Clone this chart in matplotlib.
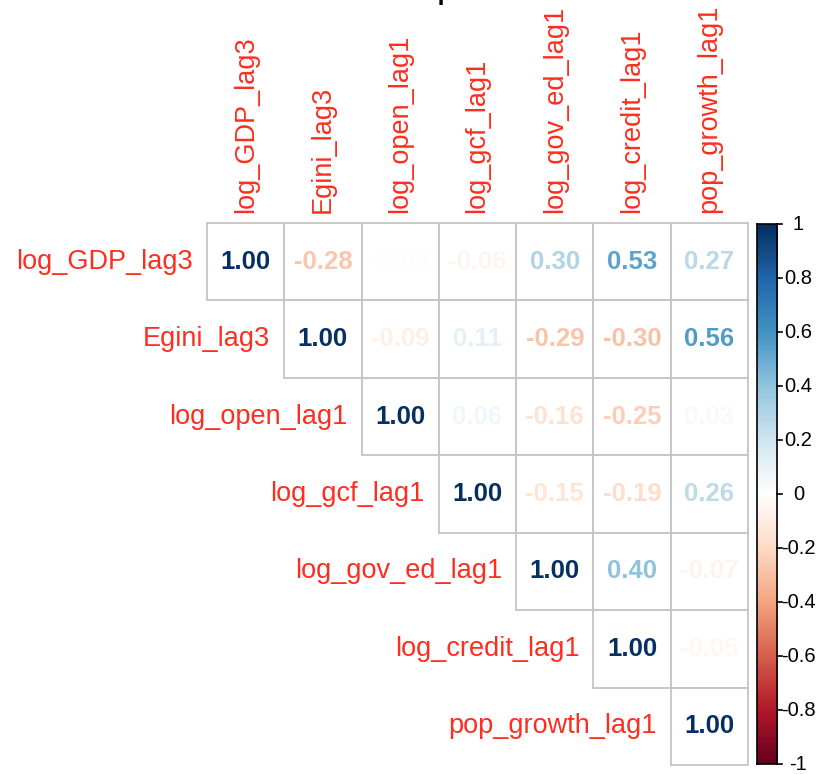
import numpy as np
import matplotlib
matplotlib.use("Agg")
import matplotlib.pyplot as plt
from matplotlib.colors import LinearSegmentedColormap
from matplotlib.patches import Rectangle

plt.rcParams['font.family'] = ['Liberation Sans', 'DejaVu Sans']

variables = ["log_GDP_lag3", "Egini_lag3", "log_open_lag1", "log_gcf_lag1",
             "log_gov_ed_lag1", "log_credit_lag1", "pop_growth_lag1"]

# upper-triangle correlations, one list per row starting at the diagonal
row_gdp = [1.00, -0.28, -0.02, -0.06, 0.30, 0.53, 0.27]
row_egini = [1.00, -0.09, 0.11, -0.29, -0.30, 0.56]
row_open = [1.00, 0.06, -0.16, -0.25, 0.03]
row_gcf = [1.00, -0.15, -0.19, 0.26]
row_gov_ed = [1.00, 0.40, -0.07]
row_credit = [1.00, -0.05]
row_pop = [1.00]

cbar_ticks = [1, 0.8, 0.6, 0.4, 0.2, 0, -0.2, -0.4, -0.6, -0.8, -1]
cbar_labels = ["1", "0.8", "0.6", "0.4", "0.2", "0", "-0.2", "-0.4", "-0.6", "-0.8", "-1"]

rows = [row_gdp, row_egini, row_open, row_gcf, row_gov_ed, row_credit, row_pop]
n = len(variables)
corr = np.full((n, n), np.nan)
for i, r in enumerate(rows):
    for k, v in enumerate(r):
        corr[i, i + k] = v
        corr[i + k, i] = v

rdbu = ["#67001F", "#B2182B", "#D6604D", "#F4A582", "#FDDBC7", "#FFFFFF",
        "#D1E5F0", "#92C5DE", "#4393C3", "#2166AC", "#053061"]
cmap = LinearSegmentedColormap.from_list("corr_rdbu", rdbu, N=200)

W, H = 820, 774
fig = plt.figure(figsize=(W / 100, H / 100), dpi=100)

def fig_rect(x0, y0, x1, y1):
    return [x0 / W, 1 - y1 / H, (x1 - x0) / W, (y1 - y0) / H]

ax = fig.add_axes(fig_rect(207, 223, 748, 765))
ax.set_xlim(0, n)
ax.set_ylim(n, 0)
ax.axis("off")

grid_col = "#C4C4C4"
label_col = "#FF2D1E"
for i in range(n):
    for j in range(i, n):
        ax.add_patch(Rectangle((j, i), 1, 1, facecolor="white",
                               edgecolor=grid_col, linewidth=1.3, clip_on=False))
        v = corr[i, j]
        ax.text(j + 0.5, i + 0.5, f"{v:.2f}", ha="center", va="center",
                fontsize=18.5, fontweight="bold", color=cmap((v + 1) / 2))

for i, name in enumerate(variables):
    ax.text(i - 0.18, i + 0.5, name, ha="right", va="center",
            fontsize=19.5, color=label_col, clip_on=False)
    ax.text(i + 0.5, -0.13, name, ha="center", va="bottom", rotation=90,
            fontsize=19.5, color=label_col, clip_on=False)

# colour legend
cax = fig.add_axes(fig_rect(757, 224, 777, 764))
grad = np.linspace(-1, 1, 400).reshape(-1, 1)
cax.imshow(grad, cmap=cmap, vmin=-1, vmax=1, aspect="auto",
           extent=[0, 1, -1, 1], origin="lower")
cax.set_xlim(0, 1)
cax.set_ylim(-1, 1)
cax.set_xticks([])
cax.set_yticks([])
for s in cax.spines.values():
    s.set_color("black")
    s.set_linewidth(1.2)
for t, lab in zip(cbar_ticks, cbar_labels):
    cax.plot([1, 1.25], [t, t], color="black", lw=1.2, clip_on=False)
    cax.text(2.07, t, lab, ha="center", va="center", fontsize=14.5,
             color="black", clip_on=False)

fig.text(453 / W, 1.0, "Correlation Heatmap", ha="right", va="baseline",
         fontsize=18, fontweight="bold", color="black")

fig.savefig("out.png", dpi=100, facecolor="white")
